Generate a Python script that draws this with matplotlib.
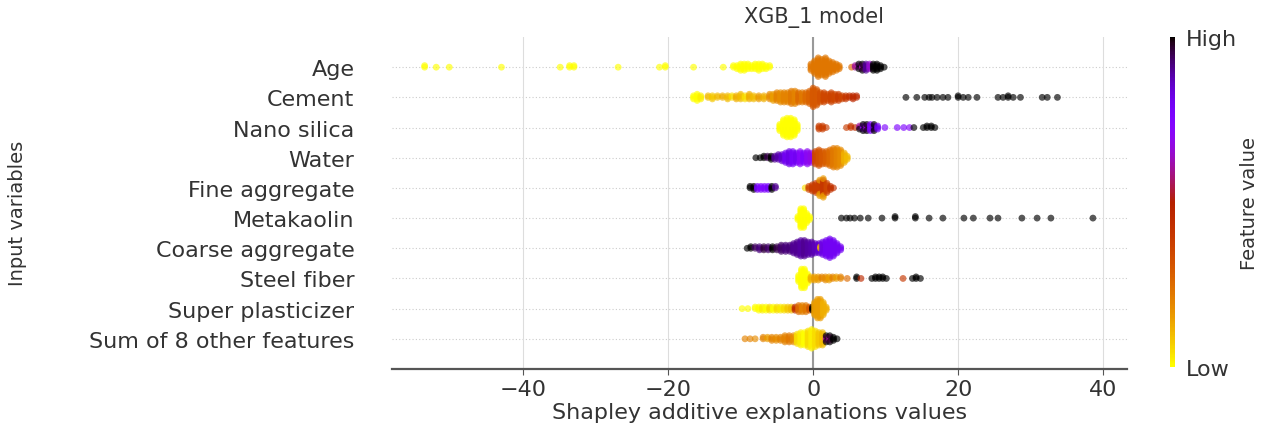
import numpy as np
import matplotlib
matplotlib.use('Agg')
import matplotlib.pyplot as plt

# features from top row to bottom row
features = ['Age', 'Cement', 'Nano silica', 'Water', 'Fine aggregate', 'Metakaolin',
            'Coarse aggregate', 'Steel fiber', 'Super plasticizer', 'Sum of 8 other features']

# every row: x = SHAP value of a column of stacked dots, n = dots in that column,
# c = normalised feature value of those dots (0 = low, 1 = high)
age_x = [-53.6, -52.0, -50.2, -43.0, -34.9, -33.6, -33.0, -26.9, -21.2, -20.4, -16.5, -12.4,
         -11.0, -10.5, -10.0, -9.5, -9.0, -8.5, -8.0, -7.5, -7.0, -6.5, -6.0,
         -0.3, 0.2, 0.7, 1.2, 1.7, 2.2, 2.7, 3.2, 3.6,
         5.3, 5.8, 6.3, 6.3, 6.8, 6.8, 7.3, 7.8, 8.3, 8.8, 9.3, 9.8]
age_n = [2, 1, 1, 1, 1, 2, 2, 1, 1, 2, 1, 1,
         2, 3, 5, 5, 4, 3, 4, 5, 4, 3, 2,
         5, 9, 13, 11, 13, 9, 7, 5, 3,
         1, 2, 2, 2, 3, 2, 5, 4, 5, 5, 3, 1]
age_c = [0, 0, 0, 0, 0, 0, 0, 0, 0, 0, 0, 0,
         0, 0, 0, 0, 0, 0, 0, 0, 0, 0, 0,
         .23, .23, .23, .23, .23, .23, .23, .23, .23,
         .25, .6, .62, 1, .62, 1, .9, .65, 1, 1, 1, 1]

cement_x = [-16.5, -16.0, -15.5, -14.5, -13.9, -13.2, -12.5, -11.8, -11.2, -10.6, -10.0, -9.4,
            -8.8, -8.2, -7.5, -6.8,
            -6.0, -5.5, -5.0, -4.5, -4.0, -3.5, -3.0, -2.5, -2.0, -1.5, -1.0, -0.5, 0.0, 0.5,
            1.0, 1.5, 2.0, 2.5, 3.0, 3.5, 4.0, 4.5, 5.0, 5.5, 6.0,
            12.8, 14.3, 15.4, 16.0, 16.4, 17.1, 17.9, 18.6, 20.0, 20.7, 21.4, 22.6, 25.5, 26.2,
            26.9, 27.6, 28.6, 31.6, 32.3, 33.7]
cement_n = [3, 5, 3, 2, 3, 2, 2, 3, 2, 3, 4, 3, 4, 3, 3, 3,
            4, 5, 6, 7, 7, 7, 9, 9, 7, 7, 7, 9, 13, 11, 7, 7, 5, 7, 5, 5, 3, 3, 2, 3, 2,
            1, 1, 1, 1, 1, 1, 1, 1, 2, 1, 1, 1, 1, 1, 2, 1, 1, 1, 1, 1]
cement_c = [0, 0, .02, .1, .08, .1, .12, .1, .05, .12, .1, .05, .12, .1, .15, .12,
            .18, .15, .2, .18, .2, .2, .22, .2, .25, .22, .25, .27, .3, .3, .32, .35, .35, .36,
            .35, .38, .36, .4, .42, .45, .45,
            1, 1, 1, 1, 1, 1, 1, 1, 1, 1, 1, 1, 1, 1, 1, 1, 1, 1, 1, 1]

nano_x = [-4.6, -4.1, -3.6, -3.1, -2.6, -2.2, 0.8, 1.3, 1.8,
          4.6, 5.2, 5.8, 6.4, 6.4, 6.9, 6.9, 7.4, 7.4, 7.9, 8.4, 8.4, 8.9, 9.9, 11.6, 12.5,
          13.3, 13.9, 15.2, 15.7, 16.3, 16.8]
nano_n = [5, 11, 13, 13, 11, 5, 3, 3, 1,
          1, 2, 1, 2, 1, 3, 2, 3, 2, 5, 3, 2, 3, 1, 1, 1, 1, 1, 1, 2, 2, 1]
nano_c = [0, 0, 0, 0, 0, 0, .38, .38, .38,
          .38, .4, .45, .6, 1, .7, 1, .65, 1, .75, .9, 1, .8, .75, .75, .75, .72, 1, 1, 1, 1, 1]

water_x = [-7.9, -7.3, -6.8, -6.3, -5.8, -5.3, -4.8,
           -4.3, -3.8, -3.3, -2.8, -2.3, -1.8, -1.3, -0.8, -0.3,
           0.3, 0.8, 1.3, 1.8, 2.3, 2.8, 3.3, 3.8, 4.3, 4.7]
water_n = [1, 1, 2, 2, 3, 3, 4, 5, 7, 9, 9, 7, 9, 7, 9, 7, 9, 11, 9, 9, 11, 13, 13, 11, 7, 3]
water_c = [1, 1, 1, .95, 1, .9, .88, .85, .8, .82, .78, .8, .72, .76, .7, .68,
           .35, .32, .3, .28, .25, .22, .2, .18, .12, .1]

fine_x = [-8.7, -8.2, -7.7, -7.2, -6.7, -6.2, -5.7, -5.2,
          -1.1, -0.6, -0.1, 0.4, 0.9, 0.9, 1.4, 1.4, 1.9, 2.4, 2.8]
fine_n = [2, 3, 3, 3, 3, 3, 3, 2, 1, 3, 5, 7, 8, 3, 10, 3, 7, 3, 1]
fine_c = [1, 1, .78, .75, .75, .78, 1, .9, .05, .35, .38, .38, .38, .15, .4, .15, .35, .42, .42]

meta_x = [-2.1, -1.7, -1.3, -0.9, -0.5,
          3.9, 4.6, 5.1, 5.7, 6.5, 7.6, 9.5, 11.3, 14.1, 16.0, 17.9, 20.8, 22.1, 24.4, 25.5,
          28.8, 30.9, 32.8, 38.6]
meta_n = [3, 13, 13, 7, 3, 1, 1, 1, 1, 1, 1, 1, 2, 2, 1, 1, 1, 1, 1, 1, 1, 1, 1, 1]
meta_c = [0, 0, 0, 0, 0, 1, 1, 1, 1, 1, 1, 1, 1, 1, 1, 1, 1, 1, 1, 1, 1, 1, 1, 1]

coarse_x = [-9.1, -8.6, -8.0, -7.4, -6.8, -6.2, -5.6, -5.0, -4.4, -3.8, -3.2,
            -2.7, -2.2, -1.7, -1.2, -0.7, -0.2, 0.3, 0.8, 1.0, 1.3, 1.8, 2.3, 2.8, 3.3, 3.8]
coarse_n = [1, 2, 2, 3, 3, 3, 3, 3, 5, 5, 5, 7, 9, 11, 11, 9, 9, 7, 7, 2, 9, 11, 13, 11, 7, 3]
coarse_c = [1, 1, .94, .92, .96, .93, 1, .95, .93, .92, .92,
            .9, .9, .89, .9, .89, .88, .87, .85, .1, .82, .8, .8, .8, .8, .8]

steel_x = [-2.0, -1.6, -1.2, -0.8, -0.3, 0.2, 0.7, 1.2, 1.7, 2.2, 2.7, 3.2, 3.8, 4.7,
           6.0, 6.6, 8.1, 8.6, 9.1, 9.6, 10.1, 12.4, 13.7, 14.2, 14.8]
steel_n = [5, 13, 13, 7, 3, 3, 3, 2, 3, 3, 2, 2, 2, 1, 2, 1, 1, 2, 2, 2, 1, 1, 1, 2, 1]
steel_c = [0, 0, 0, 0, .12, .15, .15, .2, .18, .15, .2, .15, .2, .25,
           1, .45, 1, 1, 1, 1, 1, .4, 1, 1, 1]

super_x = [-9.8, -9.0, -8.0, -7.5, -7.0, -6.5, -6.0, -5.5, -5.0, -4.5, -4.0, -3.5, -3.0,
           -2.5, -2.0, -1.5, -1.0, -0.5, -0.1, 0.2, 0.6, 1.0, 1.4, 1.8]
super_n = [1, 1, 2, 3, 3, 3, 3, 3, 3, 3, 3, 3, 3, 3, 5, 5, 5, 3, 3, 9, 13, 13, 9, 3]
super_c = [0, 0, 0, 0, .02, 0, .05, 0, .05, .03, .05, .08, .1,
           .45, .25, .2, .22, .3, 1, .15, .15, .15, .12, .12]

other_x = [-9.4, -8.7, -8.0, -6.9, -6.3, -5.7, -5.1, -4.5, -3.9, -3.3, -2.7,
           -2.2, -1.7, -1.2, -0.7, -0.2, 0.3, 0.8, 1.3, 1.8, 1.8, 2.3, 2.3, 2.8, 3.3]
other_n = [1, 1, 1, 2, 2, 3, 3, 3, 5, 5, 5, 7, 9, 9, 11, 13, 11, 9, 9, 3, 2, 3, 2, 3, 1]
other_c = [.2, .2, .18, .2, .15, .2, .18, .2, .2, .22, .18,
           .05, .02, 0, .05, .02, .05, .08, .1, .6, 1, .6, 1, 1, 1]

rows = [(age_x, age_n, age_c), (cement_x, cement_n, cement_c), (nano_x, nano_n, nano_c),
        (water_x, water_n, water_c), (fine_x, fine_n, fine_c), (meta_x, meta_n, meta_c),
        (coarse_x, coarse_n, coarse_c), (steel_x, steel_n, steel_c),
        (super_x, super_n, super_c), (other_x, other_n, other_c)]


def swarm_offsets(xs, row_height=0.4):
    # stack dots that share an x value alternately above / below the row line
    layer = {}
    ys = np.zeros(len(xs))
    for i, x in enumerate(xs):
        k = layer.get(x, 0)
        ys[i] = np.ceil(k / 2) * ((k % 2) * 2 - 1)
        layer[x] = k + 1
    ys *= 0.9 * (row_height / np.max(ys + 1))
    return ys


cmap = plt.cm.gnuplot_r
text_color = '#333333'

fig = plt.figure(figsize=(12.75, 4.27), dpi=100)
ax = fig.add_axes([392 / 1275, 1 - 370 / 427, 735 / 1275, 332 / 427])

n_rows = len(features)
for i, (x, n, c) in enumerate(rows):
    pos = n_rows - 1 - i
    xs = np.repeat(np.array(x, dtype=float), n)
    cs = np.repeat(np.array(c, dtype=float), n)
    ys = pos + swarm_offsets(xs)
    ax.axhline(y=pos, color='#cccccc', lw=0.8, dashes=(1, 2), zorder=-1)
    ax.scatter(xs, ys, c=cs, cmap=cmap, vmin=0, vmax=1, s=24, alpha=0.65,
               linewidths=0, zorder=3)

ax.axvline(x=0, color='#999999', lw=1.5, zorder=1)
ax.set_xlim(-58.1, 43.3)
ax.set_ylim(-1, n_rows)
ax.set_xticks([-40, -20, 0, 20, 40])
ax.grid(axis='x', color='#dddddd', lw=0.8, zorder=-2)
ax.set_axisbelow(True)

ax.set_yticks(range(n_rows))
ax.set_yticklabels(features[::-1], fontsize=16, color=text_color)
ax.tick_params(axis='y', length=0, pad=27)
ax.tick_params(axis='x', labelsize=16, labelcolor=text_color, color='#555555', length=4)
for side in ['top', 'right', 'left']:
    ax.spines[side].set_visible(False)
ax.spines['bottom'].set_linewidth(1.6)
ax.spines['bottom'].set_color('#555555')

ax.set_xlabel('Shapley additive explanations values', fontsize=16, color=text_color, labelpad=2)
fig.text(18 / 1275, 0.5, 'Input variables', rotation=90, fontsize=14, color=text_color,
         ha='center', va='center')
fig.text(814 / 1275, 1 - 18 / 427, 'XGB_1 model', fontsize=15, color=text_color,
         ha='center', va='center')

# colour bar
cax = fig.add_axes([1170 / 1275, 1 - 368 / 427, 5 / 1275, 330 / 427])
sm = plt.cm.ScalarMappable(cmap=cmap, norm=plt.Normalize(0, 1))
cb = fig.colorbar(sm, cax=cax, ticks=[0, 1])
cb.set_ticklabels(['Low', 'High'])
cb.ax.tick_params(length=0, labelsize=16, labelcolor=text_color, pad=8)
cb.outline.set_visible(False)
cb.set_label('Feature value', fontsize=14, color=text_color, labelpad=2)

fig.savefig('out.png', dpi=100)
